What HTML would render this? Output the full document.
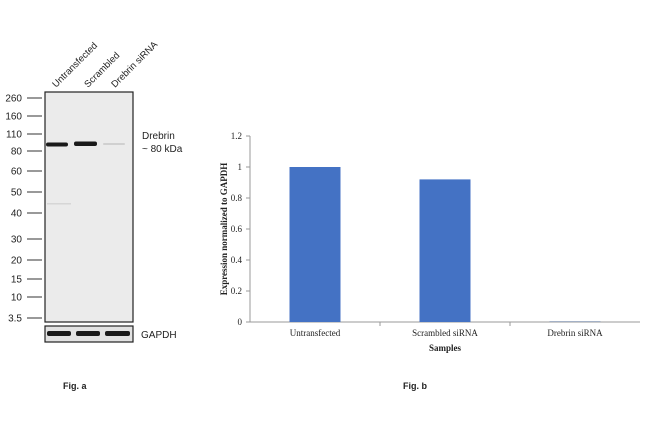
<!DOCTYPE html>
<html><head><meta charset="utf-8"><style>
body{margin:0;background:#fff;width:650px;height:416px;overflow:hidden;font-family:"Liberation Sans",Arial,sans-serif}
</style></head><body>
<svg width="650" height="416" viewBox="0 0 650 416">
<g font-family="Liberation Sans, Arial, sans-serif" fill="#222">
  <rect x="45" y="92" width="88" height="230" fill="#ebebeb" stroke="#222" stroke-width="1.2"/>
  <rect x="45" y="326" width="88" height="16" fill="#e2e2e2" stroke="#222" stroke-width="1.2"/>
  <g id="markers"></g>
  <rect x="46" y="142.5" width="22" height="4" rx="2" fill="#1a1a1a"/>
  <rect x="74" y="141.5" width="23" height="4.5" rx="2" fill="#1a1a1a"/>
  <rect x="103" y="143" width="22" height="2" rx="1" fill="#d0d0d0"/>
  <rect x="47" y="203" width="24" height="1.5" fill="#d6d6d6"/>
  <rect x="47" y="331" width="24" height="5" rx="2" fill="#1a1a1a"/>
  <rect x="76" y="331" width="24" height="5" rx="2" fill="#1a1a1a"/>
  <rect x="105" y="331" width="25" height="5" rx="2" fill="#1a1a1a"/>
  <text x="141" y="338" font-size="10">GAPDH</text>
  <text x="142" y="139" font-size="10">Drebrin</text>
  <text x="142" y="152" font-size="10">~ 80 kDa</text>
  <text transform="translate(56,88) rotate(-45)" font-size="9.5">Untransfected</text>
  <text transform="translate(88,88) rotate(-45)" font-size="9.5">Scrambled</text>
  <text transform="translate(115,88) rotate(-45)" font-size="9.5">Drebrin siRNA</text>
  <text x="63" y="389" font-size="9" font-weight="bold">Fig. a</text>
</g>
<g id="chart" font-family="Liberation Serif, Times New Roman, serif" fill="#222"></g>
<text x="403" y="389" font-size="9" font-weight="bold" font-family="Liberation Sans, Arial, sans-serif" fill="#222">Fig. b</text>
</svg>
<script>
const markerLabels=["260","160","110","80","60","50","40","30","20","15","10","3.5"];
const markerY=[98,116,134,151,171,192,213,239,260,279,297,318];
const categories=["Untransfected","Scrambled siRNA","Drebrin siRNA"];
const values=[1.0,0.92,0.005];
const yTicks=[0,0.2,0.4,0.6,0.8,1,1.2];

const NS="http://www.w3.org/2000/svg";
function mk(tag,attrs,parent,txt){const e=document.createElementNS(NS,tag);for(const k in attrs)e.setAttribute(k,attrs[k]);if(txt!==undefined)e.textContent=txt;parent.appendChild(e);return e;}

const mg=document.getElementById('markers');
markerLabels.forEach((l,i)=>{
  const t=mk('text',{x:22,y:markerY[i]+3.5,'font-size':10,'text-anchor':'end'},mg,l);
  
  
  const ln=mk('line',{x1:27,x2:42,y1:markerY[i],y2:markerY[i],stroke:'#555','stroke-width':1.2},mg);
  
  
});

const g=document.getElementById('chart');
const x0=250,x1=640,y0=322,yTop=136,ymax=1.2;
const ys=v=>y0-(v/ymax)*(y0-yTop);
const bw=(x1-x0)/categories.length;
const ax=mk('line',{x1:x0,x2:x0,y1:yTop,y2:y0,stroke:'#999'},g);


const xa=mk('line',{x1:x0,x2:x1,y1:y0,y2:y0,stroke:'#999'},g);


yTicks.forEach(v=>{
  const tk=mk('line',{x1:x0-4,x2:x0,y1:ys(v),y2:ys(v),stroke:'#999'},g);
  
  
  const t=mk('text',{x:x0-8,y:ys(v)+3,'font-size':9,'text-anchor':'end'},g,String(v));
  
  
});
categories.forEach((c,i)=>{
  const cx=x0+bw*(i+0.5);
  const h=y0-ys(values[i]);
  const r=mk('rect',{x:cx-25.5,y:ys(values[i]),width:51,height:Math.max(h,0.8),fill:values[i]<0.02?'#8a9bb5':'#4472c4'},g);
  
  
  const t=mk('text',{x:cx,y:y0+14,'font-size':9,'text-anchor':'middle'},g,c);
  
  
  if(i>0){const tk=mk('line',{x1:x0+bw*i,x2:x0+bw*i,y1:y0,y2:y0+4,stroke:'#999'},g);
  
  }
});
const xt=mk('text',{x:445,y:351,'font-size':9,'font-weight':'bold','text-anchor':'middle'},g,'Samples');


const yt=mk('text',{transform:'translate(227,229) rotate(-90)','font-size':9,'font-weight':'bold','text-anchor':'middle'},g,'Expression normalized to GAPDH');


</script>
</body></html>
